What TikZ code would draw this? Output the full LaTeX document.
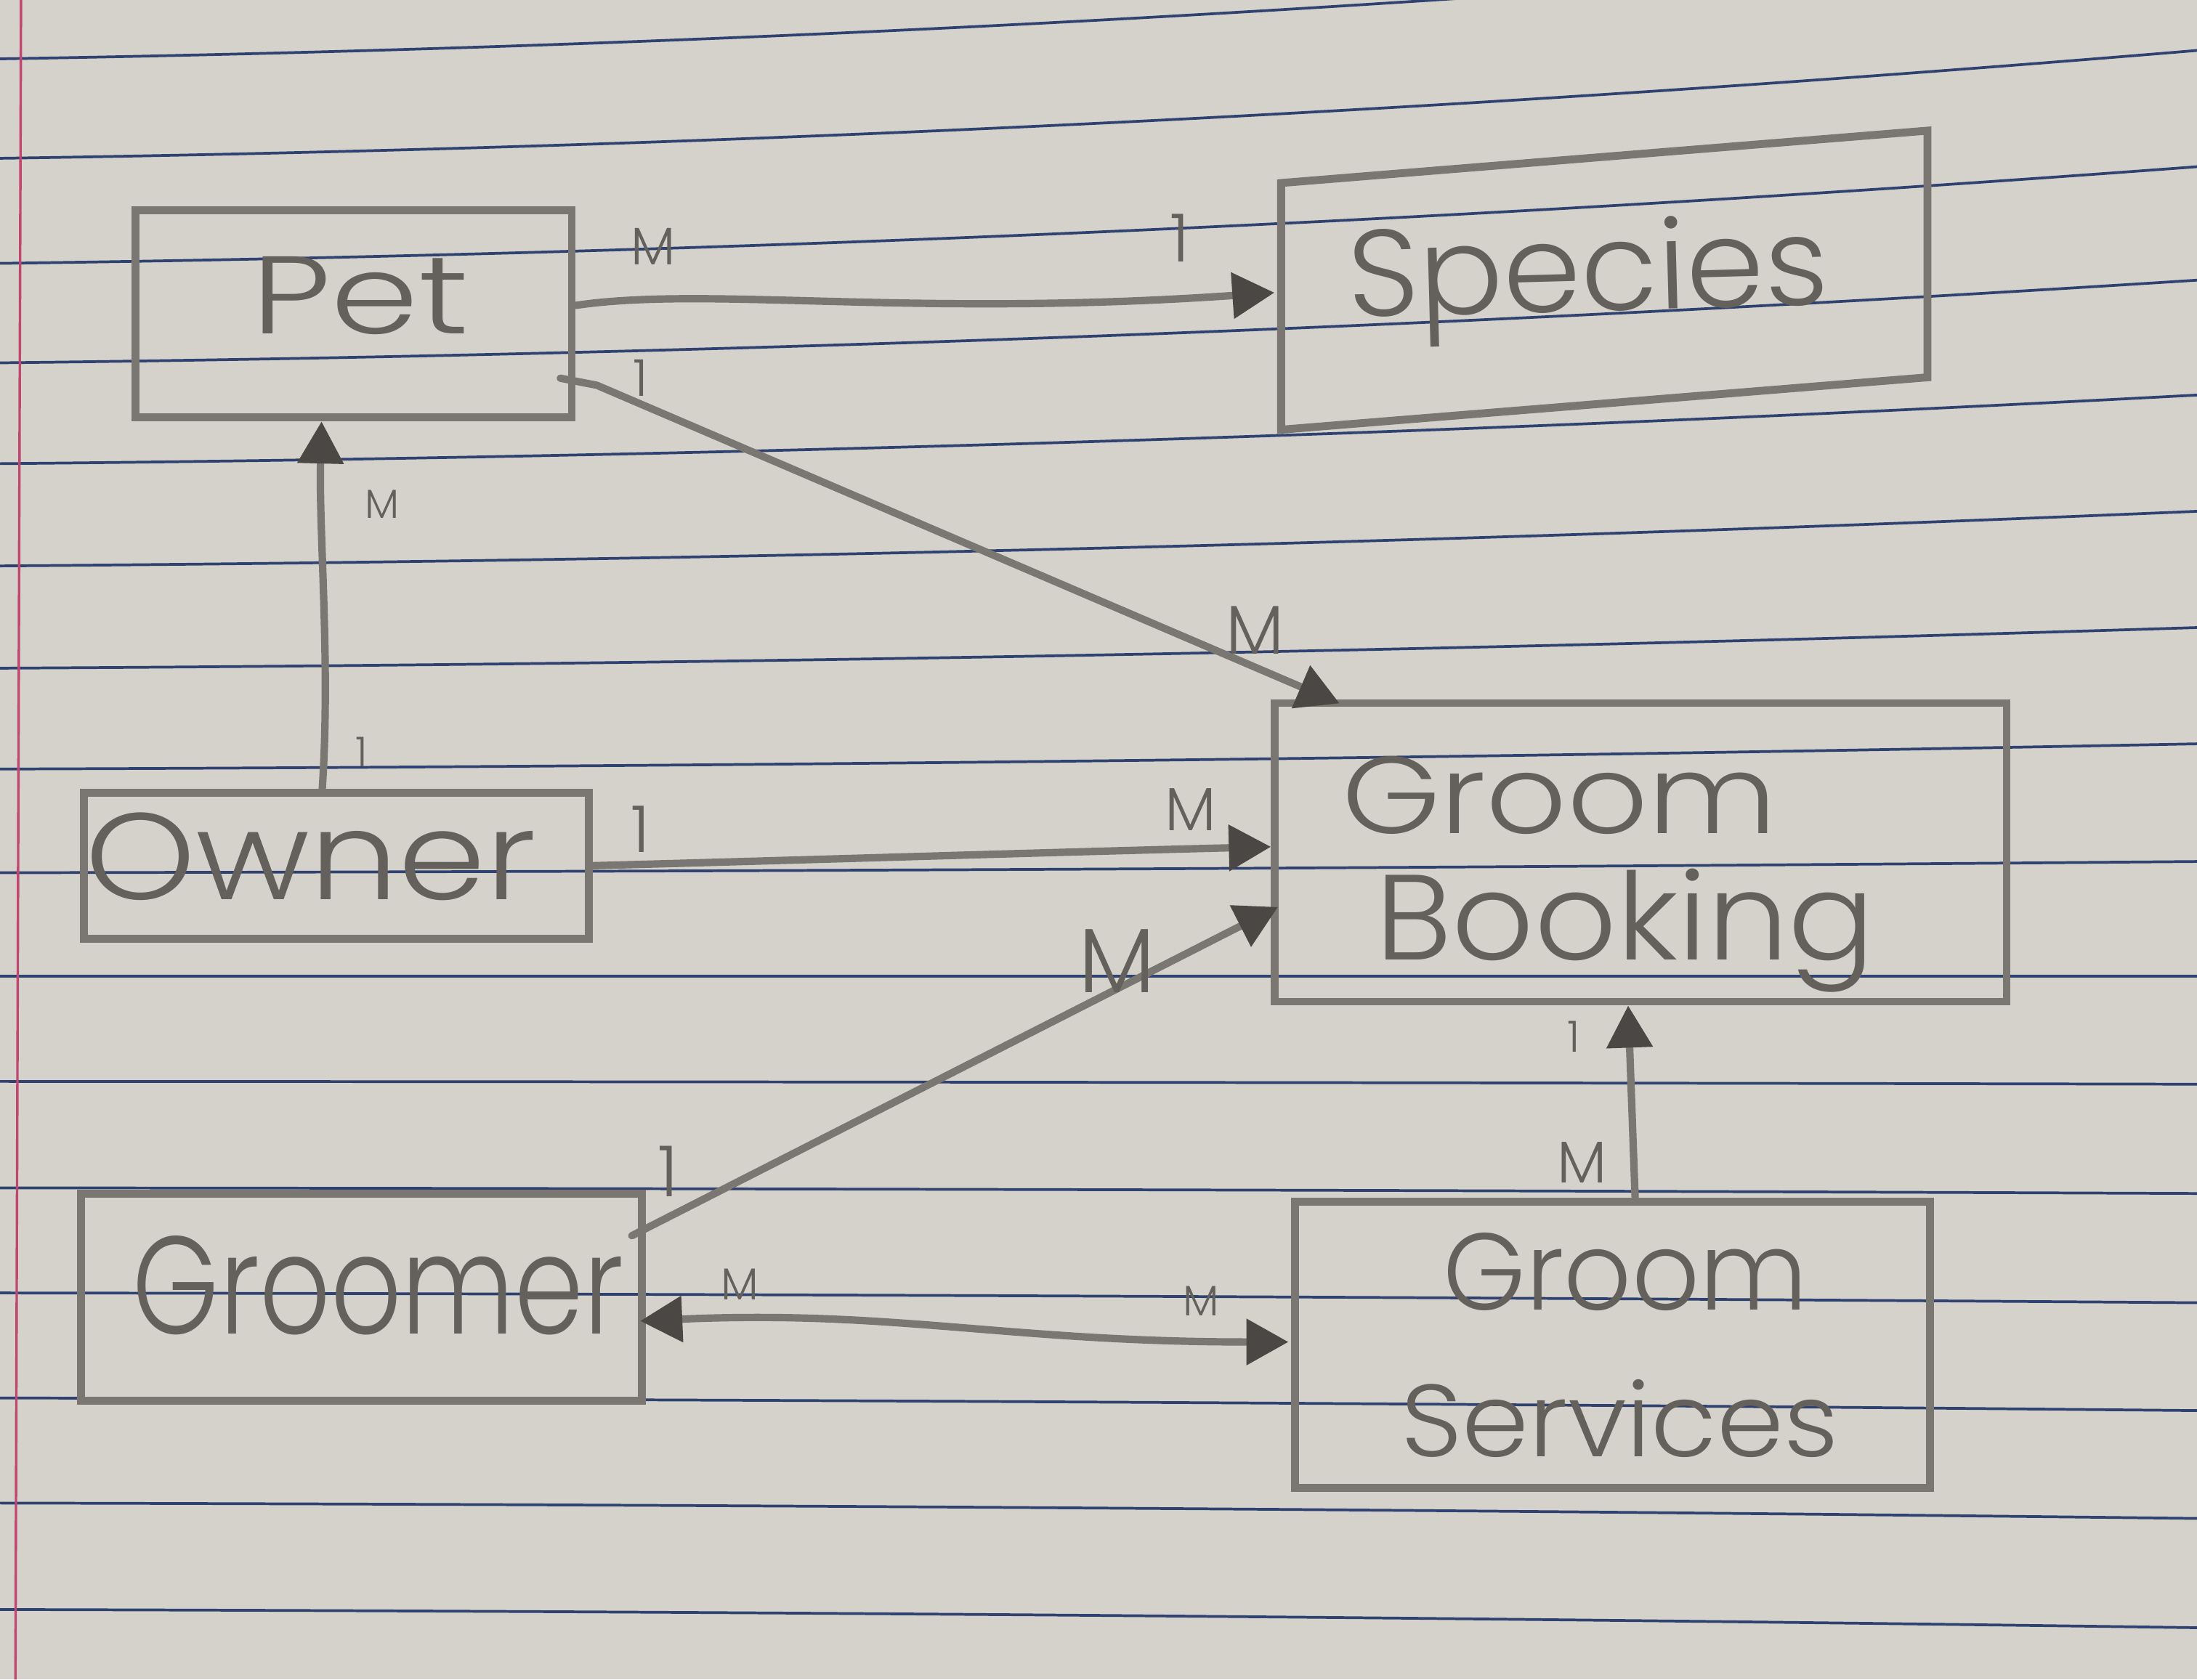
\documentclass[tikz,border=0pt]{standalone}
\usepackage{graphicx}
\usepackage{fontspec}
\setmainfont{Poppins}[UprightFont={* Light}]
\usetikzlibrary{arrows.meta,calc}
\definecolor{paper}{RGB}{213,209,203}
\definecolor{pencil}{RGB}{122,118,113}
\definecolor{pencildark}{RGB}{74,71,68}
\definecolor{ink}{RGB}{100,96,92}
\definecolor{rulecol}{RGB}{48,66,112}
\definecolor{margincol}{RGB}{192,72,112}
\begin{document}
\begin{tikzpicture}[x=0.01cm,y=-0.01cm,
  box/.style={draw=pencil, line width=1.6pt, rectangle, inner sep=0pt},
  conn/.style={draw=pencil, line width=1.5pt, line cap=round, line join=round,
    -{Triangle[length=0.30cm,width=0.32cm,color=pencildark]}},
  biconn/.style={draw=pencil, line width=1.5pt, line cap=round,
    {Triangle[length=0.30cm,width=0.32cm,color=pencildark]}-{Triangle[length=0.30cm,width=0.32cm,color=pencildark]}},
  word/.style={text=ink, inner sep=0pt, anchor=base},
  card/.style={text=ink, inner sep=0pt},
  paperline/.style={draw=rulecol, line width=0.55pt}]

% paper
\useasboundingbox (0,0) rectangle (1568,1199);
\fill[paper] (0,0) rectangle (1568,1199);
\begin{scope}
  \clip (0,0) rectangle (1568,1199);
  \foreach \yy/\dd in {42/85,113/77,188/69,259/59,331/49,404/39,477/29,549/18,623/8,697/0,772/-2,848/-4,923/-7,998/-9,1073/-11,1149/-13}
    \draw[paperline] (0,\yy) .. controls (522.7,{\yy-0.1*\dd}) and (1045.3,{\yy-0.433*\dd}) .. (1568,{\yy-\dd});
  \draw[margincol, line width=0.5pt] (15,0) -- (11,1199);
\end{scope}

% boxes
\node[box, minimum width=3.11cm, minimum height=1.48cm] (pet) at (252.5,224) {};
\node[box, minimum width=4.61cm, minimum height=1.76cm, yslant=0.081] (species) at (1145,200) {};
\node[box, minimum width=5.22cm, minimum height=2.13cm] (gb) at (1171,608.5) {};
\node[box, minimum width=3.60cm, minimum height=1.04cm] (owner) at (240,618) {};
\node[box, minimum width=4.00cm, minimum height=1.48cm] (groomer) at (258,926) {};
\node[box, minimum width=4.53cm, minimum height=2.04cm] (gs) at (1151,960) {};

% words
\node[word] (petT) at (257,238) {\resizebox{1.55cm}{0.55cm}{Pet}};
\node[word, rotate=1.5] (speciesT) at (1134,222) {\resizebox{3.43cm}{0.66cm}{Species}};
\node[word] (gbT1) at (1113,595) {\resizebox{3.10cm}{0.55cm}{Groom}};
\node[word] (gbT2) at (1160,685) {\resizebox{3.56cm}{0.65cm}{Booking}};
\node[word] (ownerT) at (222,642) {\resizebox{3.22cm}{0.62cm}{Owner}};
\node[word] (groomerT) at (270,952) {\resizebox{3.50cm}{0.70cm}{Groomer}};
\node[word] (gsT1) at (1160,935) {\resizebox{2.60cm}{0.55cm}{Groom}};
\node[word] (gsT2) at (1156,1040) {\resizebox{3.12cm}{0.55cm}{Services}};

% connectors
\draw[conn] ($(pet.east)+(0,-6)$) .. controls +(95,-14) and +(-260,18) .. ($(species.west)+(-2,-10)$);
\draw[conn] ($(pet.east)+(-11,46)$) -- ++(26,5) -- ($(gb.north west)+(49,3)$);
\draw[conn] ($(owner.north)+(-10,0)$) .. controls +(6,-90) and +(-2,80) .. ($(pet.south)+(-23,0)$);
\draw[conn] (owner.east) .. controls +(150,-4) and +(-160,4) .. ($(gb.west)+(0,-4)$);
\draw[conn] ($(groomer.north east)+(-10,33)$) -- ($(gb.west)+(5,39)$);
\draw[biconn] ($(groomer.east)+(-4,17)$) .. controls +(180,-8) and +(-200,0) .. ($(gs.west)+(-2,-2)$);
\draw[conn] ($(gs.north)+(16,0)$) -- ($(gb.south)+(-9,0)$);

% cardinalities
\node[card] (c1) at (466,176) {\resizebox{!}{0.26cm}{M}};
\node[card] (c2) at (842,170) {\resizebox{!}{0.34cm}{1}};
\node[card] (c3) at (457,270) {\resizebox{!}{0.26cm}{1}};
\node[card] (c4) at (896,450) {\resizebox{!}{0.34cm}{M}};
\node[card] (c5) at (273,360) {\resizebox{!}{0.20cm}{M}};
\node[card] (c6) at (258,537) {\resizebox{!}{0.21cm}{1}};
\node[card] (c7) at (457,592) {\resizebox{!}{0.33cm}{1}};
\node[card] (c8) at (850,578) {\resizebox{!}{0.30cm}{M}};
\node[card] (c9) at (797,686) {\resizebox{!}{0.45cm}{M}};
\node[card] (c10) at (477,836) {\resizebox{!}{0.36cm}{1}};
\node[card] (c11) at (528,917) {\resizebox{!}{0.22cm}{M}};
\node[card] (c12) at (857,929) {\resizebox{!}{0.21cm}{M}};
\node[card] (c13) at (1123,740) {\resizebox{!}{0.22cm}{1}};
\node[card] (c14) at (1129,830) {\resizebox{!}{0.29cm}{M}};
\end{tikzpicture}
\end{document}
